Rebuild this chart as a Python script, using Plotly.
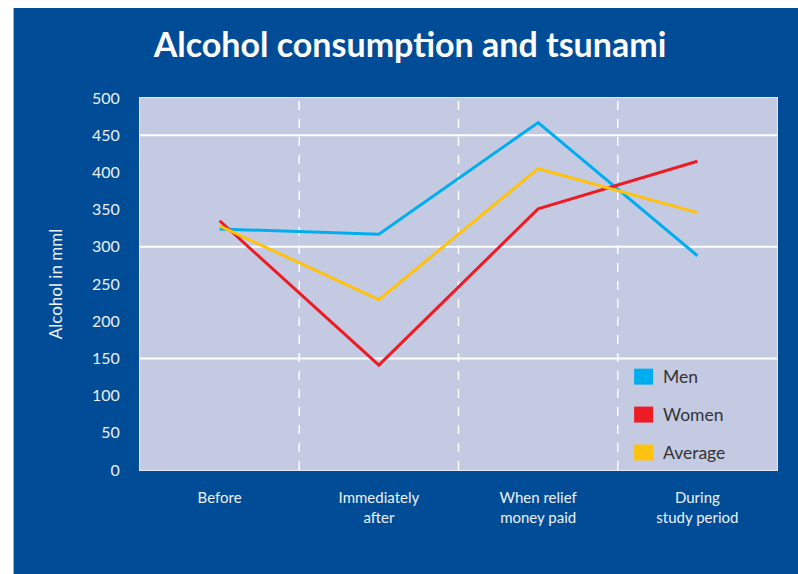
import plotly.graph_objects as go

# Survey periods (x categories) and average alcohol intake per group, in ml
periods = ["Before", "Immediately<br>after", "When relief<br>money paid", "During<br>study period"]
men = [324, 317, 467, 288]
women = [335, 141, 351, 415]
average = [328, 229, 405, 346]

series_names = ["Men", "Women", "Average"]
series_values = [men, women, average]
series_colors = ["#00AEEF", "#ED1C24", "#FFC20E"]

y_ticks = [0, 50, 100, 150, 200, 250, 300, 350, 400, 450, 500]
grid_levels = [150, 300, 450]

W, H = 798, 574
PANEL = "#004C97"
PLOT_BG = "#C5CAE3"
FONT = "Lato, 'Open Sans', sans-serif"

# plot area in pixels
L, R, T, B = 139.5, 777, 98, 470.5
pw, ph = R - L, B - T


def px_x(x):
    return (x - L) / pw


def px_y(y):
    return (B - y) / ph


fig = go.Figure()
for name, vals, col in zip(series_names, series_values, series_colors):
    fig.add_trace(go.Scatter(
        x=periods, y=vals, name=name, mode="lines",
        line=dict(color=col, width=3), showlegend=False,
    ))

shapes = []
# white strips along the left and top edges of the blue page
shapes.append(dict(type="rect", xref="paper", yref="paper",
                   x0=px_x(-5), x1=px_x(13), y0=px_y(H + 5), y1=px_y(-5),
                   fillcolor="white", line=dict(width=0)))
shapes.append(dict(type="rect", xref="paper", yref="paper",
                   x0=px_x(-5), x1=px_x(W + 5), y0=px_y(8), y1=px_y(-5),
                   fillcolor="white", line=dict(width=0)))
# solid horizontal grid lines
for g in grid_levels:
    shapes.append(dict(type="line", xref="paper", yref="y", x0=0, x1=1, y0=g, y1=g,
                       line=dict(color="white", width=2), layer="below"))
# dashed separators between periods
for i in range(len(periods) - 1):
    shapes.append(dict(type="line", xref="x", yref="paper", x0=i + 0.5, x1=i + 0.5,
                       y0=0, y1=1, line=dict(color="white", width=1.5, dash="dash"),
                       layer="below"))

annotations = []
# legend: coloured squares with labels
leg_y = [377, 415, 453]
for name, col, cy in zip(series_names, series_colors, leg_y):
    shapes.append(dict(type="rect", xref="paper", yref="paper",
                       x0=px_x(634), x1=px_x(653), y0=px_y(cy + 8), y1=px_y(cy - 8),
                       fillcolor=col, line=dict(width=0)))
    annotations.append(dict(xref="paper", yref="paper", x=px_x(661), y=px_y(cy),
                            xanchor="left", yanchor="middle", showarrow=False,
                            text=name, font=dict(family=FONT, size=17.5, color="#333333")))

fig.update_layout(
    width=W, height=H,
    paper_bgcolor=PANEL,
    plot_bgcolor=PLOT_BG,
    margin=dict(l=L, r=W - R, t=T, b=H - B, pad=0),
    title=dict(text="<b>Alcohol consumption and tsunami</b>",
               x=410 / W, xanchor="center", xref="container",
               y=1 - 45 / H, yanchor="middle", yref="container",
               font=dict(family=FONT, size=34, color="white")),
    shapes=shapes,
    annotations=annotations,
    showlegend=False,
)

fig.update_xaxes(
    type="category", range=[-0.5, len(periods) - 0.5],
    showgrid=False, zeroline=False,
    showline=True, linecolor="#E6E9F4", linewidth=1, mirror=True,
    ticks="", ticklabelstandoff=14,
    tickfont=dict(family=FONT, size=15, color="#EEF1F8"),
)
fig.update_yaxes(
    range=[0, 500], tickvals=y_ticks,
    showgrid=False, zeroline=False,
    showline=True, linecolor="#E6E9F4", linewidth=1, mirror=True,
    ticks="", ticklabelstandoff=16,
    tickfont=dict(family=FONT, size=16, color="#EEF1F8"),
    title=dict(text="Alcohol in mml", standoff=25,
               font=dict(family=FONT, size=17, color="#EEF1F8")),
)

fig.write_html("out.html")
